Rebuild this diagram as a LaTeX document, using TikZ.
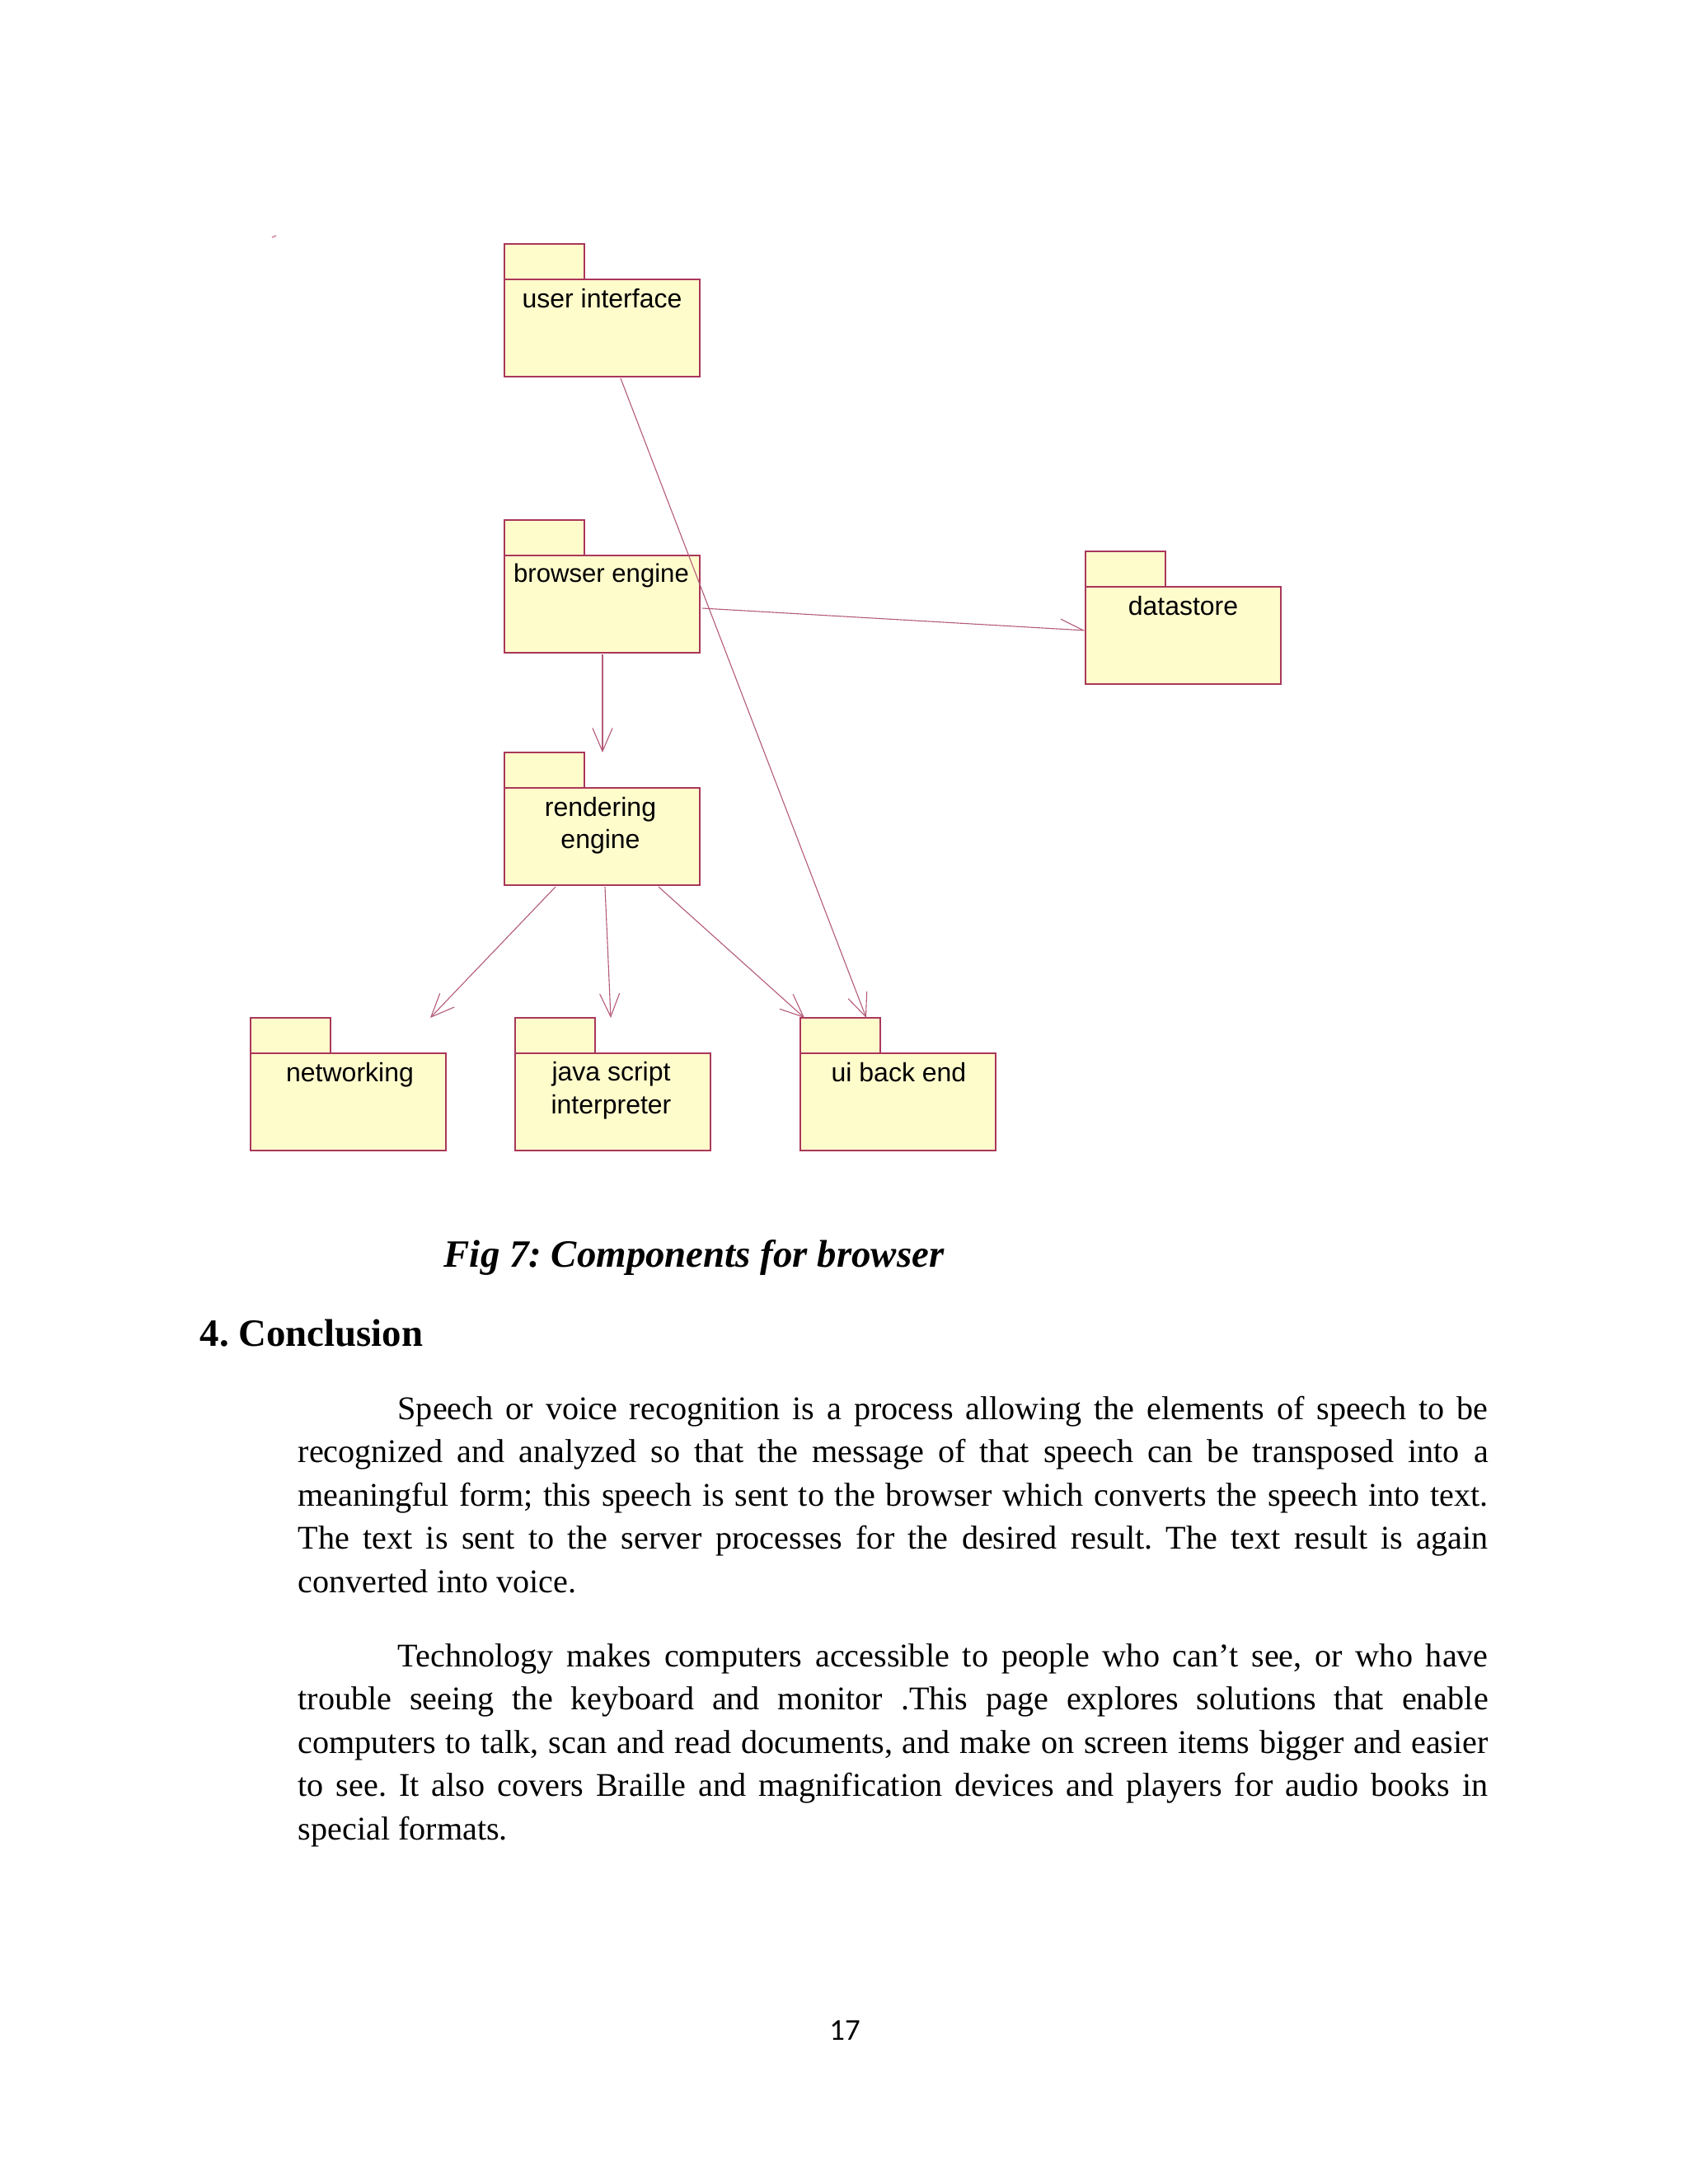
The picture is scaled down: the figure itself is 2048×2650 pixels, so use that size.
\documentclass[tikz,border=0pt]{standalone}
\usepackage{fontspec}
\setmainfont{Liberation Serif}
\newfontfamily\arialf{Liberation Sans}
\newfontfamily\calf{Carlito}
\usetikzlibrary{arrows.meta,calc}
\frenchspacing
\newlength\pxu
\setlength\pxu{0.298828pt}
\definecolor{pkgfill}{RGB}{255,252,204}
\definecolor{pkgline}{RGB}{170,55,90}
\definecolor{conn}{RGB}{180,90,120}
\tikzset{
  pkg/.style={rectangle, inner sep=0pt, outer sep=0pt, minimum width=237\pxu, minimum height=161\pxu, anchor=north west},
  pkgbox/.style={fill=pkgfill, draw=pkgline, line width=2\pxu},
  pkglabel/.style={font=\arialf\fontsize{9.56pt}{11.8pt}\selectfont, anchor=base, inner sep=0pt, align=center},
  dep/.style={draw=conn, line width=1.1\pxu, -{Straight Barb[length=8.4pt,width=7.2pt]}},
  dephalf/.style={draw=conn, line width=1.1\pxu, -{Straight Barb[length=8.4pt,width=7.2pt,left]}},
  bodyline/.style={font=\fontsize{12pt}{14pt}\selectfont, anchor=base west, inner sep=0pt},
}
\begin{document}
\begin{tikzpicture}[x=0.298828pt, y=-0.298828pt]
\fill[white] (0,0) rectangle (2048,2650);
\useasboundingbox (0,0) rectangle (2048,2650);

% tiny speck
\draw[pkgline!50, line width=2\pxu] (330,288) -- (335,286);

% packages
\node[pkg] (ui) at (612,296) {};
\node[pkg] (be) at (612,631) {};
\node[pkg] (ds) at (1317,669) {};
\node[pkg] (re) at (612,913) {};
\node[pkg] (nw) at (304,1235) {};
\node[pkg] (js) at (625,1235) {};
\node[pkg] (ub) at (971,1235) {};

\foreach \n in {ui,be,ds,re,nw,js,ub}{
  \filldraw[pkgbox] (\n.north west) rectangle ($(\n.north west)+(97,43)$);
  \filldraw[pkgbox] ($(\n.north west)+(0,43)$) rectangle (\n.south east);
}

\node[pkglabel] (ui-l) at ($(ui.north)+(0,77)$) {user interface};
\node[pkglabel, font=\arialf\fontsize{9.3pt}{11.8pt}\selectfont] (be-l) at ($(be.north)+(-1,75)$) {browser engine};
\node[pkglabel] (ds-l) at ($(ds.north)+(0,77)$) {datastore};
\node[pkglabel] (re-l) at ($(re.north)+(-2,116.5)$) {rendering\\engine};
\node[pkglabel] (nw-l) at ($(nw.north)+(2,77)$) {networking};
\node[pkglabel] (js-l) at ($(js.north)+(-2,116)$) {java script\\interpreter};
\node[pkglabel] (ub-l) at ($(ub.north)+(1,77)$) {ui back end};

% connectors
\draw[dep] ($(ui.south west)+(141,2)$) -- ($(ub.north west)+(80,0)$);
\draw[dephalf] ($(be.north west)+(240,107)$) -- ($(ds.north west)+(0,96)$);
\draw[dep] ($(be.south west)+(119,2)$) -- ($(re.north west)+(119,0)$);
\draw[dep] ($(re.south west)+(62,2)$) -- ($(nw.north west)+(218,0)$);
\draw[dep] ($(re.south west)+(122,2)$) -- ($(js.north west)+(116,0)$);
\draw[dep] ($(re.south west)+(187,2)$) -- ($(ub.north west)+(5,0)$);

% caption and heading
\node[font=\fontsize{14pt}{16pt}\selectfont\bfseries\itshape, anchor=base, inner sep=0pt] (cap) at (842,1537) {Fig 7: Components for browser};
\node[font=\fontsize{14pt}{16pt}\selectfont\bfseries, anchor=base west, inner sep=0pt] (head) at (242,1633) {4. Conclusion};

% paragraph 1
\node[bodyline] (p1a) at (482,1722) {\makebox[1323\pxu][s]{Speech or voice recognition is a process allowing the elements of speech to be}};
\node[bodyline] (p1b) at (361,1774.5) {\makebox[1444\pxu][s]{recognized and analyzed so that the message of that speech can be transposed into a}};
\node[bodyline] (p1c) at (361,1827) {\makebox[1444\pxu][s]{meaningful form; this speech is sent to the browser which converts the speech into text.}};
\node[bodyline] (p1d) at (361,1879.5) {\makebox[1444\pxu][s]{The text is sent to the server processes for the desired result. The text result is again}};
\node[bodyline] (p1e) at (361,1932) {converted into voice.};

% paragraph 2
\node[bodyline] (p2a) at (482,2022) {\makebox[1323\pxu][s]{Technology makes computers accessible to people who can’t see, or who have}};
\node[bodyline] (p2b) at (361,2074.5) {\makebox[1444\pxu][s]{trouble seeing the keyboard and monitor .This page explores solutions that enable}};
\node[bodyline] (p2c) at (361,2127) {\makebox[1444\pxu][s]{computers to talk, scan and read documents, and make on screen items bigger and easier}};
\node[bodyline] (p2d) at (361,2179.5) {\makebox[1444\pxu][s]{to see. It also covers Braille and magnification devices and players for audio books in}};
\node[bodyline] (p2e) at (361,2232) {special formats.};

% page number
\node[font=\calf\fontsize{11pt}{13pt}\selectfont, anchor=base, inner sep=0pt] (pg) at (1025,2475) {17};
\end{tikzpicture}
\end{document}
